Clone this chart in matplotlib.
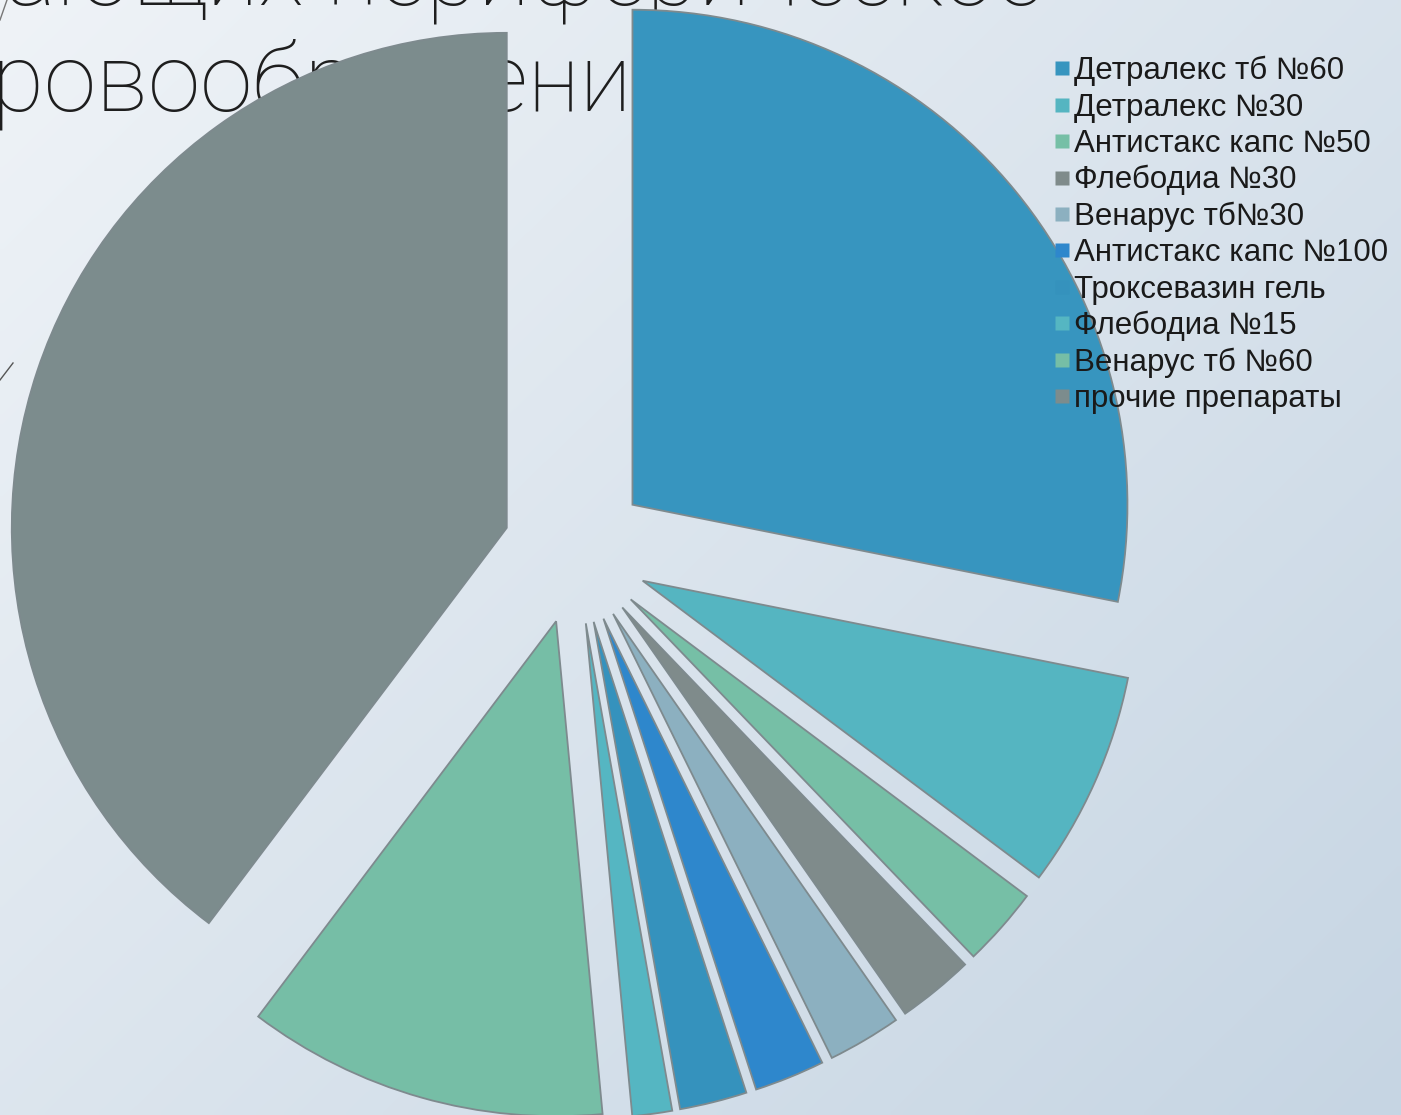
import numpy as np
import matplotlib
matplotlib.use('Agg')
import matplotlib.pyplot as plt
from matplotlib.lines import Line2D

labels = ['Детралекс тб №60', 'Детралекс №30', 'Антистакс капс №50', 'Флебодиа №30',
          'Венарус тб№30', 'Антистакс капс №100', 'Троксевазин гель', 'Флебодиа №15',
          'Венарус тб №60', 'прочие препараты']
shares = [28.2, 7.1, 2.6, 2.5, 2.4, 2.3, 2.2, 1.3, 11.8, 39.8]
colors = ['#3795BF', '#55B5C1', '#76BFA6', '#7F8B8B', '#8CB0C0', '#2E87CC',
          '#3592BD', '#55B6C2', '#76BEA6', '#7C8C8D']
title_lines = ['улучшающих периферическое', 'кровообращение']

W, H = 1401, 1115
fig = plt.figure(figsize=(W / 100, H / 100), dpi=100)
ax = fig.add_axes([0, 0, 1, 1])
ax.set_xlim(0, W)
ax.set_ylim(0, H)

# background gradient
gy, gx = np.mgrid[0:1:200j, 0:1:250j]
t = 0.55 * gx + 0.45 * gy
c0 = np.array([0xEF, 0xF3, 0xF7]) / 255
c1 = np.array([0xC6, 0xD5, 0xE3]) / 255
img = c0 + (c1 - c0) * t[..., None]
ax.imshow(img, extent=[0, W, 0, H], origin='upper', aspect='auto', zorder=-10,
          interpolation='bilinear')

# title text (partly hidden behind the pie)
renderer = fig.canvas.get_renderer()
tfont = dict(family='Roboto', fontweight='light', color='#1e1e1e', zorder=0)


def text_width(s, size):
    p = ax.text(0, 0, s, fontsize=size, **tfont)
    w = p.get_window_extent(renderer).width
    p.remove()
    return w


size = 64 * 640 / text_width(title_lines[1][1:-1], 64)
ax.text(1043, H - 5, title_lines[0], ha='right', va='baseline', fontsize=size, **tfont)
wk = text_width(title_lines[1][0], size)
ax.text(-8 - wk, H - 110, title_lines[1], ha='left', va='baseline', fontsize=size, **tfont)

# decorative lines
ax.plot([0, 13], [H - 380, H - 363], color='#555555', lw=1, zorder=0)
ax.plot([0, 7], [H - 20, H - 0], color='#777777', lw=1, zorder=0)

wedges, _ = ax.pie(shares, colors=colors, startangle=90, counterclock=False,
                   explode=[73] * len(shares), radius=495, center=(576, H - 551),
                   wedgeprops=dict(edgecolor='#7E8A8E', linewidth=1.3))

ax.set_xlim(0, W)
ax.set_ylim(0, H)
ax.set_aspect('auto')
ax.axis('off')

handles = [Line2D([], [], marker='s', linestyle='none', markersize=10.5,
                  markerfacecolor=c, markeredgecolor='none') for c in colors]
leg = ax.legend(handles, labels, loc='upper left', bbox_to_anchor=(1054 / W, 1 - 56 / H),
                bbox_transform=fig.transFigure, frameon=False,
                prop=dict(family='Liberation Sans', size=22.5), handlelength=0.5,
                handletextpad=0.15, labelspacing=0.2, borderpad=0, borderaxespad=0)
for tx in leg.get_texts():
    tx.set_color('#1a1a1a')

fig.savefig('out.png', dpi=100)
